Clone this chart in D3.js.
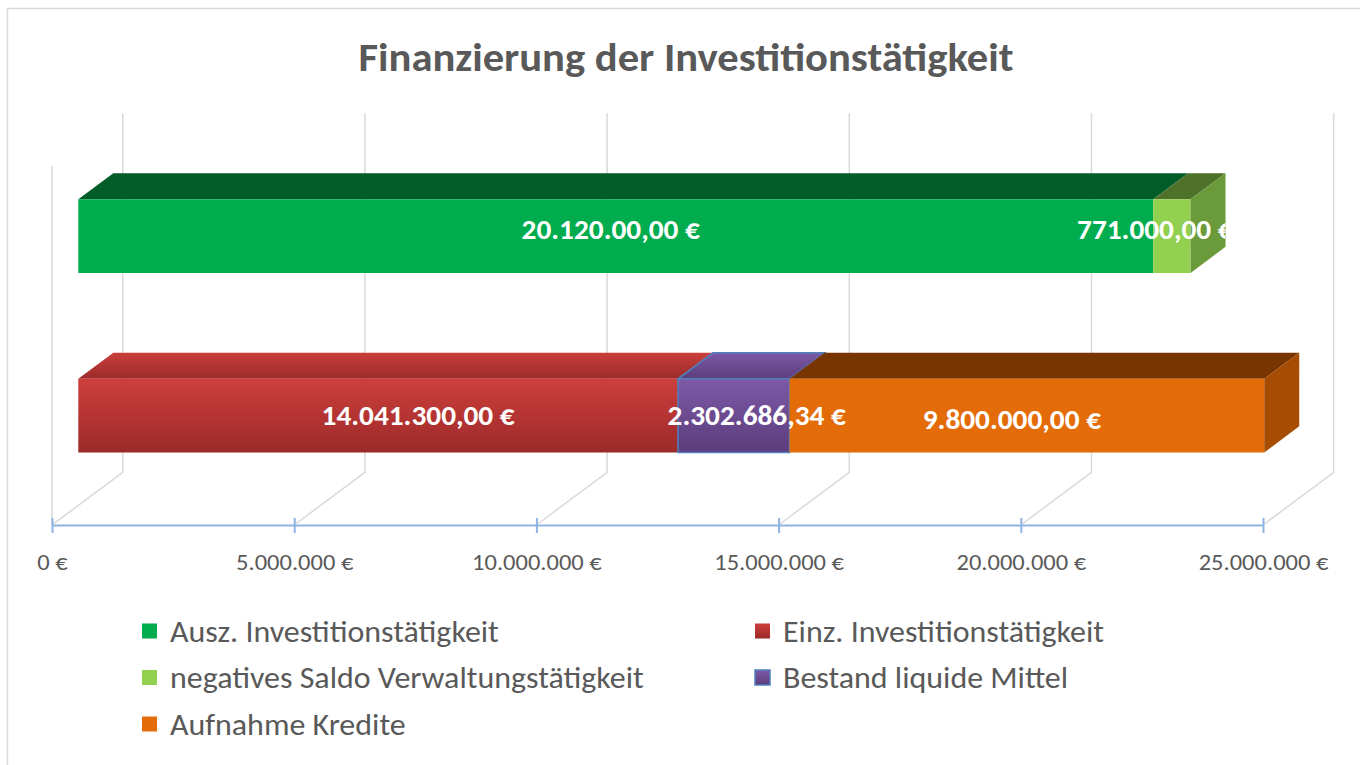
<!DOCTYPE html>
<html>
<head>
<meta charset="utf-8">
<script src="https://cdn.jsdelivr.net/npm/d3@7"></script>
<style>
  body { margin: 0; background: #fff; }
  svg { display: block; }
  text { font-family: Carlito, Calibri, Lato, sans-serif; }
</style>
</head>
<body>
<svg id="chart" width="1360" height="765"></svg>
<script>
// data
const categories = ["Mittelverwendung", "Mittelherkunft"];
const seriesNames = [
    "Ausz. Investitionstätigkeit",
    "Einz. Investitionstätigkeit",
    "negatives Saldo Verwaltungstätigkeit",
    "Bestand liquide Mittel",
    "Aufnahme Kredite"
];
const seriesValues = [
    [22190000, 0],
    [0, 12380000],
    [771000, 0],
    [0, 2302686.34],
    [0, 9800000]
];
const seriesLabels = ["20.120.00,00 €", "14.041.300,00 €", "771.000,00 €", "2.302.686,34 €", "9.800.000,00 €"];
const axisTicks = [0, 5000000, 10000000, 15000000, 20000000, 25000000];
const tickLabels = ["0 €", "5.000.000 €", "10.000.000 €", "15.000.000 €", "20.000.000 €", "25.000.000 €"];

// look of each series: front / top / side fills
const seriesStyle = [
    {front: "#00AC4E", top: "#005D28", side: "#00803A"},
    {front: "url(#redFront)", top: "url(#redTop)", side: "#8E2725"},
    {front: "#92D050", top: "#4E7229", side: "#6A9A3A"},
    {front: "url(#purpleFront)", top: "url(#purpleTop)", side: "#5C3D7C", stroke: "#4F81BD"},
    {front: "#E36C09", top: "#783500", side: "#A64C03"}
];
// small hand shifts of the value labels (px)
const labelNudge = [[-5, -7], [40, 0], [-17, -7], [23, 0], [-15, 4]];
// Calibri is a bit wider than the fallback font
const fontStretch = 1.065;

const svg = d3.select("#chart");
const defs = svg.append("defs");

function addGradient(id, c1, c2){
    const g = defs.append("linearGradient").attr("id", id)
        .attr("x1", 0).attr("y1", 0).attr("x2", 0).attr("y2", 1);
    g.append("stop").attr("offset", "0%").attr("stop-color", c1);
    g.append("stop").attr("offset", "100%").attr("stop-color", c2);
}
addGradient("redFront", "#CD3F3B", "#9C2A2A");
addGradient("redTop", "#CA3F3B", "#9B2B29");
addGradient("purpleFront", "#7D59A7", "#5C3D7C");
addGradient("purpleTop", "#7B58A5", "#5D3E7D");

// outer border
svg.append("rect")
    .attr("x", 7.5).attr("y", 8.5)
    .attr("width", 1400).attr("height", 800)
    .attr("fill", "none").attr("stroke", "#D9D9D9").attr("stroke-width", 1.5);

// title
svg.append("text")
    .attr("x", 686).attr("y", 71)
    .attr("text-anchor", "middle")
    .attr("font-size", 40).attr("font-weight", "bold")
    .attr("fill", "#595959")
    .text("Finanzierung der Investitionstätigkeit");

// scales on the front plane, plus an oblique depth shift
const x = d3.scaleLinear().domain([0, 25000000]).range([52, 1263]);
const y = d3.scaleBand().domain(categories).range([166, 525])
    .paddingInner(0.59).paddingOuter(0.295);
const depth = {dx: 70.7, dy: -52.7};
const zFront = 0.372, zBack = 0.867;

function P(px, py, z){
    return [px + z * depth.dx, py + z * depth.dy];
}
function poly(pts){
    return "M" + pts.map(p => p.join(",")).join("L") + "Z";
}

// grid: back wall + floor
const grid = svg.append("g").attr("stroke", "#D9D9D9").attr("stroke-width", 1.5).attr("fill", "none");
grid.append("line")
    .attr("x1", x(0)).attr("y1", 166).attr("x2", x(0)).attr("y2", 525);
axisTicks.forEach(t => {
    const top = P(x(t), 166, 1), bot = P(x(t), 525, 1);
    grid.append("path").attr("d", "M" + top.join(",") + "L" + bot.join(",") + "L" + x(t) + ",525");
});

// axis
const axisG = svg.append("g").attr("transform", "translate(0,525)")
    .call(d3.axisBottom(x).tickValues(axisTicks).tickFormat((d, i) => tickLabels[i])
        .tickSizeOuter(0).tickSizeInner(8));
axisG.select(".domain").attr("stroke", "#8EB4E3").attr("stroke-width", 2);
axisG.selectAll(".tick line").attr("stroke", "#8EB4E3").attr("stroke-width", 2).attr("y1", -7);
axisG.selectAll(".tick text")
    .attr("y", 45).attr("dy", null)
    .attr("fill", "#595959").attr("font-size", 23)
    .style("font-family", "Carlito, Calibri, Lato, sans-serif");

// stacked bars
const table = categories.map((c, ci) => {
    const row = {category: c};
    seriesNames.forEach((s, si) => row[s] = seriesValues[si][ci]);
    return row;
});
const stacked = d3.stack().keys(seriesNames)(table);
const bw = y.bandwidth();

const bars = svg.append("g");
categories.forEach((c, ci) => {
    const yt = y(c), yb = yt + bw;
    const segs = stacked.map((s, si) => ({si, v0: s[ci][0], v1: s[ci][1]})).filter(d => d.v1 > d.v0);
    segs.forEach((d, k) => {
        const st = seriesStyle[d.si];
        const x0 = x(d.v0), x1 = x(d.v1);
        const g = bars.append("g");
        g.append("path")
            .attr("d", poly([P(x0, yt, zFront), P(x1, yt, zFront), P(x1, yt, zBack), P(x0, yt, zBack)]))
            .attr("fill", st.top)
            .attr("stroke", st.stroke || "none").attr("stroke-width", 1.5);
        g.append("path")
            .attr("d", poly([P(x0, yt, zFront), P(x1, yt, zFront), P(x1, yb, zFront), P(x0, yb, zFront)]))
            .attr("fill", st.front)
            .attr("stroke", st.stroke || "none").attr("stroke-width", 1.5);
        if(k === segs.length - 1){
            g.append("path")
                .attr("d", poly([P(x1, yt, zFront), P(x1, yt, zBack), P(x1, yb, zBack), P(x1, yb, zFront)]))
                .attr("fill", st.side);
        }
    });
});

// value labels, clipped to the end of each bar
const labels = svg.append("g");
categories.forEach((c, ci) => {
    const total = d3.max(stacked, s => s[ci][1]);
    defs.append("clipPath").attr("id", "clip" + ci)
        .append("rect")
        .attr("x", 0).attr("y", 0)
        .attr("width", P(x(total), 0, zBack)[0]).attr("height", 765);
    const lg = labels.append("g").attr("clip-path", "url(#clip" + ci + ")");
    stacked.forEach((s, si) => {
        const v0 = s[ci][0], v1 = s[ci][1];
        if(v1 <= v0) return;
        const cx = P((x(v0) + x(v1)) / 2, 0, zFront)[0] + labelNudge[si][0];
        const cy = P(0, y(c) + bw / 2, zFront)[1] + labelNudge[si][1];
        lg.append("text")
            .attr("x", cx).attr("y", cy).attr("dy", "0.35em")
            .attr("text-anchor", "middle")
            .attr("font-size", 27.5).attr("font-weight", "bold")
            .attr("fill", "#fff")
            .text(seriesLabels[si]);
    });
});

// legend
const colX = [142, 755], rowY = [631, 677.5, 724];
const legend = svg.append("g");
seriesNames.forEach((name, i) => {
    const lx = colX[i % 2], ly = rowY[Math.floor(i / 2)];
    const st = seriesStyle[i];
    legend.append("rect")
        .attr("x", lx).attr("y", ly - 7.5).attr("width", 15).attr("height", 15)
        .attr("fill", st.front)
        .attr("stroke", st.stroke || "none").attr("stroke-width", 1.5);
    legend.append("text")
        .attr("x", lx + 28).attr("y", ly).attr("dy", "0.35em")
        .attr("font-size", 30).attr("fill", "#595959")
        .text(name);
});

// widen every text a little so it takes Calibri's width
svg.selectAll("text").each(function(){
    const w = this.getComputedTextLength();
    d3.select(this).attr("textLength", w * fontStretch).attr("lengthAdjust", "spacingAndGlyphs");
});
</script>
</body>
</html>
